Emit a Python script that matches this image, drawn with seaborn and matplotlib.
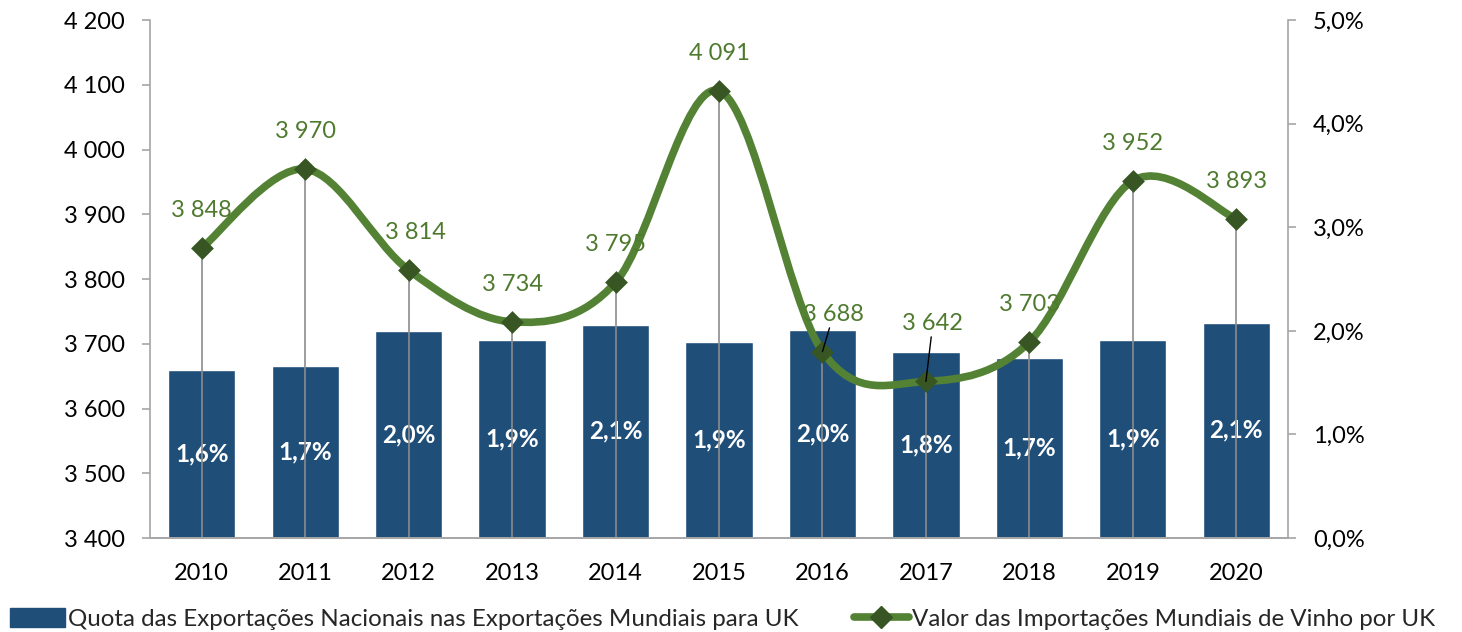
import numpy as np
import matplotlib
matplotlib.use('Agg')
import matplotlib.pyplot as plt
import seaborn as sns
from matplotlib.path import Path
from matplotlib.patches import PathPatch, Patch
from matplotlib.lines import Line2D
from matplotlib.ticker import FuncFormatter, MultipleLocator, FixedLocator

# =============================================================================
# DADOS
# =============================================================================
anos = ['2010', '2011', '2012', '2013', '2014', '2015', '2016', '2017', '2018', '2019', '2020']
quota = [1.62, 1.66, 2.00, 1.91, 2.06, 1.89, 2.01, 1.80, 1.74, 1.91, 2.08]
quota_labels = ['1,6%', '1,7%', '2,0%', '1,9%', '2,1%', '1,9%', '2,0%', '1,8%', '1,7%', '1,9%', '2,1%']
importacoes = [3848, 3970, 3814, 3734, 3795, 4091, 3688, 3642, 3703, 3952, 3893]

nome_quota = 'Quota das Exportações Nacionais nas Exportações Mundiais para UK'
nome_import = 'Valor das Importações Mundiais de Vinho por UK'

AZUL = '#1F4E79'
VERDE = '#548235'
VERDE_ESCURO = '#375623'
VERDE_TEXTO = '#4E7A2E'
CINZA = '#A6A6A6'

# =============================================================================
# FIGURA
# =============================================================================
sns.set_theme(style='white')
plt.rcParams['font.family'] = ['Lato', 'DejaVu Sans']
FS = 17

fig = plt.figure(figsize=(14.62, 6.32), dpi=100)
ax = fig.add_axes([0.1026, 0.1487, 0.7784, 0.8193])
ax2 = ax.twinx()

# barras (eixo direito, %)
x = np.arange(len(anos))
sns.barplot(x=anos, y=quota, ax=ax2, color=AZUL, saturation=1, width=0.65)
ax2.bar_label(ax2.containers[0], labels=quota_labels, label_type='center',
              color='white', fontweight='bold', fontsize=FS + 0.5)

# linha suavizada (eixo esquerdo)
ax.set_zorder(ax2.get_zorder() + 1)
ax.patch.set_visible(False)

ax.vlines(x, 3400, importacoes, color='#8C8C8C', linewidth=1.2, zorder=2)

pts = np.column_stack([x, importacoes]).astype(float)
verts = [pts[0]]
codes = [Path.MOVETO]
for i in range(len(pts) - 1):
    p0 = pts[max(i - 1, 0)]
    p1 = pts[i]
    p2 = pts[i + 1]
    p3 = pts[min(i + 2, len(pts) - 1)]
    verts += [p1 + (p2 - p0) / 6, p2 - (p3 - p1) / 6, p2]
    codes += [Path.CURVE4] * 3
ax.add_patch(PathPatch(Path(verts, codes), facecolor='none', edgecolor=VERDE,
                       linewidth=5.5, capstyle='round', joinstyle='round', zorder=3))

sns.scatterplot(x=x, y=importacoes, ax=ax, marker='D', s=135, color=VERDE_ESCURO,
                edgecolor=VERDE_ESCURO, linewidth=0, zorder=4)

# rótulos da linha
offsets = {2: (5, 27), 6: (8, 27), 7: (5, 42)}
for i, v in enumerate(importacoes):
    dx, dy = offsets.get(i, (0, 27))
    txt = f'{v:,}'.replace(',', ' ')
    if i in (6, 7):
        ax.annotate(txt, (i, v), xytext=(dx, dy), textcoords='offset points',
                    ha='center', va='center', fontsize=FS, color=VERDE_TEXTO, zorder=5,
                    arrowprops=dict(arrowstyle='-', color='black', lw=1,
                                    shrinkA=0, shrinkB=0))
    else:
        ax.annotate(txt, (i, v), xytext=(dx, dy), textcoords='offset points',
                    ha='center', va='center', fontsize=FS, color=VERDE_TEXTO, zorder=5)

# =============================================================================
# EIXOS
# =============================================================================
ax.set_ylim(3400, 4200)
ax.yaxis.set_major_locator(MultipleLocator(100))
ax.yaxis.set_major_formatter(FuncFormatter(lambda v, p: f'{v:,.0f}'.replace(',', ' ')))
ax2.set_ylim(0, 5)
ax2.yaxis.set_major_locator(MultipleLocator(1))
ax2.yaxis.set_major_formatter(FuncFormatter(lambda v, p: f'{v:.1f}%'.replace('.', ',')))
ax2.set_ylabel('')

ax.set_xlim(-0.5, len(anos) - 0.5)
ax.set_xticks(x)
ax.set_xticklabels(anos)
ax.xaxis.set_minor_locator(FixedLocator(np.arange(0.5, len(anos) - 0.5, 1)))

ax.tick_params(axis='x', which='major', length=0, pad=18, labelsize=FS, labelcolor='black')
ax.tick_params(axis='x', which='minor', length=8, width=1.2, color=CINZA, direction='out')
ax.tick_params(axis='y', length=6, width=1.2, color=CINZA, direction='out', pad=12,
               labelsize=FS, labelcolor='black')
ax2.tick_params(axis='y', length=6, width=1.2, color=CINZA, direction='out', pad=12,
                labelsize=FS, labelcolor='black')
ax2.tick_params(axis='x', length=0)

for a in (ax, ax2):
    a.spines['top'].set_visible(False)
    for s in ('left', 'right', 'bottom'):
        a.spines[s].set_color(CINZA)
        a.spines[s].set_linewidth(1.2)
ax.spines['right'].set_visible(False)
ax2.spines['left'].set_visible(False)
ax.grid(False)
ax2.grid(False)

# =============================================================================
# LEGENDA
# =============================================================================
handles = [Patch(facecolor=AZUL, edgecolor=AZUL),
           Line2D([], [], color=VERDE, linewidth=5.5, marker='D', markersize=11.5,
                  markerfacecolor=VERDE_ESCURO, markeredgecolor=VERDE_ESCURO)]
fig.legend(handles, [nome_quota, nome_import], loc='lower left',
           bbox_to_anchor=(8 / 1462, 0.0), ncol=2, frameon=False, fontsize=17.4,
           handlelength=2.26, handleheight=0.85, handletextpad=0.12, columnspacing=2.3,
           borderaxespad=0, borderpad=0.1)

fig.savefig('out.png', dpi=100)
plt.close(fig)
